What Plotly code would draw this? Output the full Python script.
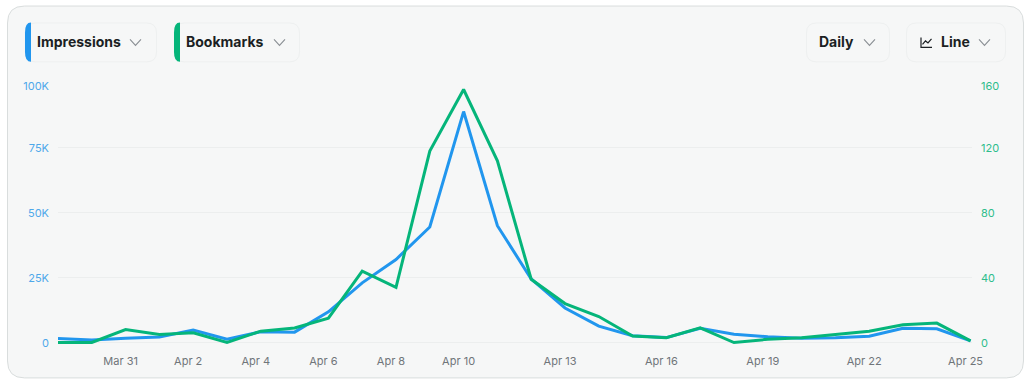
import plotly.graph_objects as go

W, H = 1034, 387
# L/R/T/B: pixel box of the plot. ZERO_Y: pixel row of the value 0; the axis runs a little below it
L, R, T, B = 58, 972, 82.7, 347.5
ZERO_Y = 343

dates = ["2025-03-29", "2025-03-30", "2025-03-31"] + [f"2025-04-{d:02d}" for d in range(1, 26)]
impressions = [1500, 1000, 1600, 2100, 4800, 1300, 4100, 4000, 11800, 23000, 32000, 44500, 89000, 45000,
               24500, 13300, 6300, 2600, 1900, 5500, 3200, 2200, 1600, 1800, 2400, 5500, 5300, 600]
bookmarks = [0, 0, 8, 5, 6, 0, 7, 9, 15, 44, 34, 118, 156, 112, 39, 24, 16, 4, 3, 9, 0, 2, 3, 5, 7, 11, 12, 1]

x_tick_vals = ["2025-03-31", "2025-04-02", "2025-04-04", "2025-04-06", "2025-04-08", "2025-04-10",
               "2025-04-13", "2025-04-16", "2025-04-19", "2025-04-22", "2025-04-25"]
x_tick_text = ["Mar 31", "Apr 2", "Apr 4", "Apr 6", "Apr 8", "Apr 10", "Apr 13", "Apr 16", "Apr 19", "Apr 22", "Apr 25"]
y1_ticks = [0, 25000, 50000, 75000, 100000]
y1_text = ["0", "25K", "50K", "75K", "100K"]
y2_ticks = [0, 40, 80, 120, 160]
y2_text = ["0", "40", "80", "120", "160"]

BLUE, GREEN = "#2196ee", "#05b57a"
FONT = "Inter, sans-serif"
CARD, EDGE, GRID = "#f6f7f7", "#d9dddd", "#eceeee"

# The reference's value labels sit slightly below their gridlines (the top one most),
# so the gridlines stay on the true values and only the labels are nudged, in pixels.
LABEL_NUDGE = [0.7, 0.7, 0.7, 0.7, 3.0]


def per_px(top):
    return top / (ZERO_Y - T)


def nudged(ticks, top):
    return [v - n * per_px(top) for v, n in zip(ticks, LABEL_NUDGE)]


def low(top):
    return -(B - ZERO_Y) * per_px(top)


def px(x):
    return (x - L) / (R - L)


def py(y):
    return (B - y) / (B - T)


def path(points):
    return "M " + " L ".join(f"{px(x):.5f},{py(y):.5f}" for x, y in points)


def rrect(x0, y0, x1, y1, r):
    a, b, c, d = px(x0), px(x1), py(y0), py(y1)
    rx, ry = r / (R - L), r / (B - T)
    return (f"M {a+rx:.5f},{c:.5f} L {b-rx:.5f},{c:.5f} Q {b:.5f},{c:.5f} {b:.5f},{c-ry:.5f} "
            f"L {b:.5f},{d+ry:.5f} Q {b:.5f},{d:.5f} {b-rx:.5f},{d:.5f} L {a+rx:.5f},{d:.5f} "
            f"Q {a:.5f},{d:.5f} {a:.5f},{d+ry:.5f} L {a:.5f},{c-ry:.5f} Q {a:.5f},{c:.5f} {a+rx:.5f},{c:.5f} Z")


def shape(p, fill=None, line=None, width=1, layer="below"):
    return dict(type="path", xref="paper", yref="paper", path=p, fillcolor=fill or "rgba(0,0,0,0)",
                line=dict(color=line or "rgba(0,0,0,0)", width=width if line else 0), layer=layer)


def tab(x0, y0, x1, y1, r, w):
    a, b, c, d = px(x0), px(x0 + w), py(y0), py(y1)
    rx, ry = r / (R - L), r / (B - T)
    return (f"M {b:.5f},{c:.5f} Q {a:.5f},{c:.5f} {a:.5f},{c-ry:.5f} L {a:.5f},{d+ry:.5f} "
            f"Q {a:.5f},{d:.5f} {b:.5f},{d:.5f} Z")


shapes = [shape(rrect(7.5, 5.5, 1023.5, 378.5, 17), CARD, EDGE, 1)]
for x0, x1 in [(25, 156.5), (174, 299.5), (806, 889.5), (906, 1005.5)]:
    shapes.append(shape(rrect(x0 + 0.5, 22.5, x1, 61.5, 10), CARD, "#eef0f0", 1))
shapes.append(shape(tab(25, 22, 156, 61.5, 10, 6), BLUE))
shapes.append(shape(tab(174, 22, 299, 61.5, 10, 6), GREEN))
for cx in [135.5, 279.5, 869.5, 984.5]:
    shapes.append(shape(path([(cx - 5.5, 39), (cx, 45), (cx + 5.5, 39)]), None, "#8a8f94", 1.1))
shapes.append(shape(path([(921, 37), (921, 47), (932, 47)]), None, "#1b1f23", 1.2))
shapes.append(shape(path([(922.5, 44), (925.5, 40.5), (928, 42.5), (931.5, 38.5)]), None, "#1b1f23", 1.2))

annotations = [
    dict(xref="paper", yref="paper", x=px(x), y=py(41.5), text=t, showarrow=False, xanchor="left", yanchor="middle",
         font=dict(family=FONT, size=14, color="#1b1f23", weight=700))
    for x, t in [(35, "Impressions"), (184, "Bookmarks"), (817, "Daily"), (939, "Line")]
]

fig = go.Figure()
fig.add_trace(go.Scatter(x=dates, y=impressions, mode="lines", name="Impressions", yaxis="y",
                         line=dict(color=BLUE, width=3), cliponaxis=False, showlegend=False))
fig.add_trace(go.Scatter(x=dates, y=bookmarks, mode="lines", name="Bookmarks", yaxis="y2",
                         line=dict(color=GREEN, width=3), cliponaxis=False, showlegend=False))

fig.update_layout(
    width=W, height=H, autosize=False,
    margin=dict(l=L, r=W - R, t=T, b=H - B, pad=0),
    paper_bgcolor="white", plot_bgcolor="rgba(0,0,0,0)",
    font=dict(family=FONT),
    shapes=shapes, annotations=annotations, showlegend=False,
    xaxis=dict(type="date", range=["2025-03-29", "2025-04-25 01:00"], tickmode="array", tickvals=x_tick_vals,
               ticktext=x_tick_text, showgrid=False, zeroline=False, showline=False, ticks="",
               tickfont=dict(family=FONT, size=11, color="#70757a"), ticklabelshift=-5, ticklabelstandoff=6),
    yaxis=dict(range=[low(100000), 100000], tickmode="array", tickvals=nudged(y1_ticks, 100000), ticktext=y1_text,
               showgrid=False, zeroline=False, showline=False, ticks="",
               minor=dict(tickmode="array", tickvals=y1_ticks, showgrid=True, gridcolor=GRID, gridwidth=1, ticks=""),
               tickfont=dict(family=FONT, size=11, color="#4ea8ea"), ticklabelstandoff=8),
    yaxis2=dict(range=[low(160), 160], tickmode="array", tickvals=nudged(y2_ticks, 160), ticktext=y2_text,
                overlaying="y", side="right", showgrid=False, zeroline=False, showline=False, ticks="",
                tickfont=dict(family=FONT, size=11, color="#2ebd8c"), ticklabelstandoff=8),
)

fig.write_html("out.html", config=dict(displayModeBar=False),
               post_script="document.body.style.margin='0';document.body.style.overflow='hidden';")
